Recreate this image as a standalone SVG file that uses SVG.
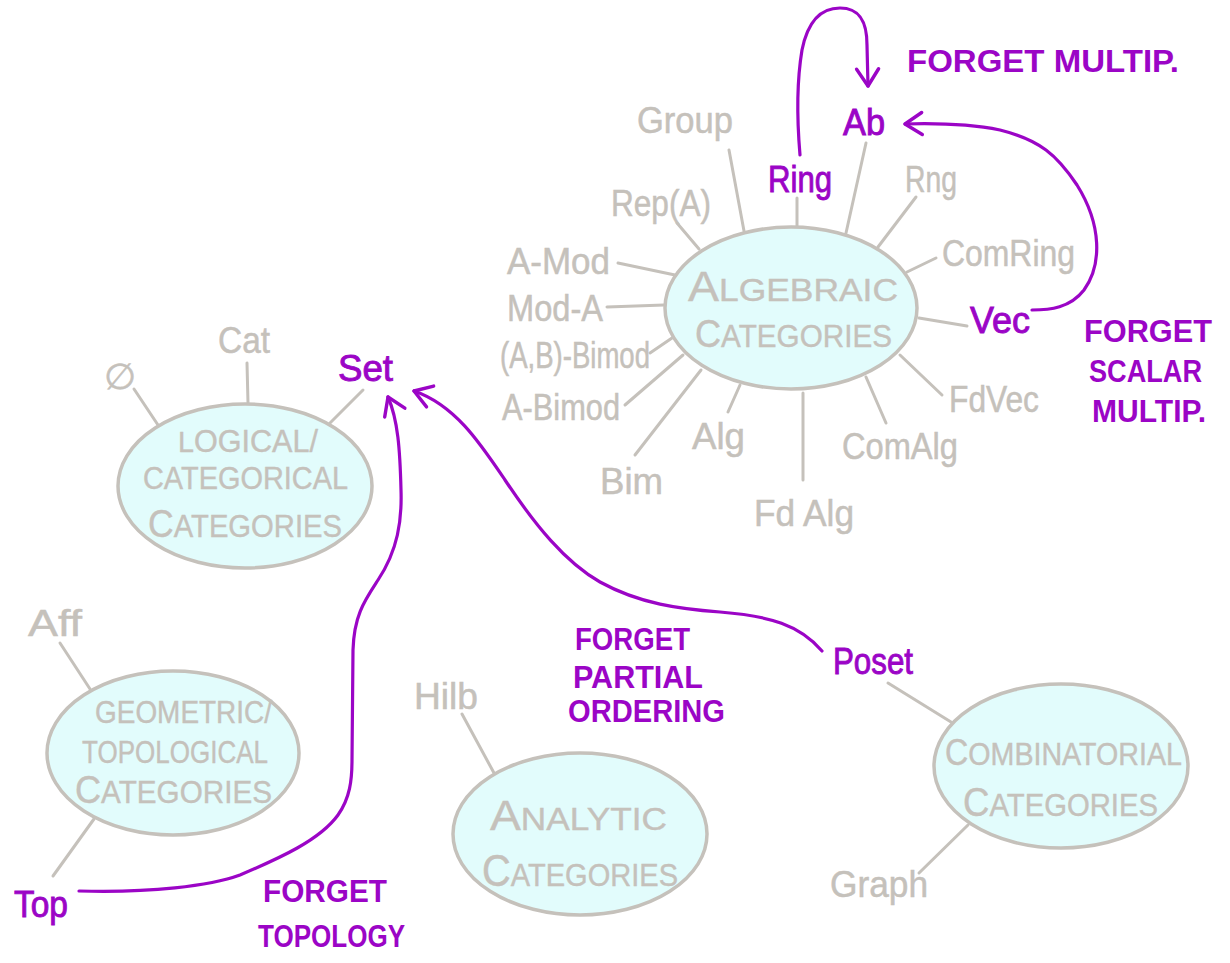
<svg xmlns="http://www.w3.org/2000/svg" width="1230" height="963" viewBox="0 0 1230 963">
  <style>
    text { font-family: "Liberation Sans", "DejaVu Sans", sans-serif; }
    .g { fill: #c5c1bb; stroke: #c5c1bb; stroke-width: 0.5px; font-size: 36px; }
    .p { fill: #9b05c6; stroke: #9b05c6; stroke-width: 0.9px; font-size: 36px; }
    .a { fill: #9b05c6; font-size: 32px; font-weight: bold; }
    .cap { fill: #c5c1bb; stroke: #c5c1bb; stroke-width: 0.4px; font-size: 32px; }
    .bubble { fill: #e2fcfc; stroke: #c5c1bb; stroke-width: 3.5; }
    .spoke { stroke: #c5c1bb; stroke-width: 3; stroke-linecap: round; fill: none; }
    .arrow { stroke: #9b05c6; stroke-width: 3.2; stroke-linecap: round; fill: none; marker-end: url(#head); }
  </style>
  <defs>
    <marker id="head" viewBox="0 0 22 26" refX="20" refY="13" markerWidth="22" markerHeight="26" markerUnits="userSpaceOnUse" orient="auto" overflow="visible">
      <path d="M3,2 L20,13 L3,24" fill="none" stroke="#9b05c6" stroke-width="3.4" stroke-linecap="round" stroke-linejoin="round"/>
    </marker>
  </defs>
  <rect width="1230" height="963" fill="#ffffff"/>

  <!-- connectors: gray spokes and purple forgetful functors -->
  <g id="connectors">
    <g id="spokes">
      <!-- algebraic -->
      <line class="spoke" x1="729" y1="150" x2="744" y2="231"/>
      <line class="spoke" x1="677" y1="223" x2="699" y2="249"/>
      <line class="spoke" x1="797" y1="198" x2="797" y2="226"/>
      <line class="spoke" x1="866" y1="143" x2="846" y2="233"/>
      <line class="spoke" x1="916" y1="197" x2="878" y2="247"/>
      <line class="spoke" x1="936" y1="258" x2="907" y2="272"/>
      <line class="spoke" x1="919" y1="318" x2="967" y2="326"/>
      <line class="spoke" x1="900" y1="355" x2="942" y2="395"/>
      <line class="spoke" x1="866" y1="377" x2="886" y2="423"/>
      <line class="spoke" x1="803" y1="393" x2="803" y2="480"/>
      <line class="spoke" x1="740" y1="385" x2="728" y2="412"/>
      <line class="spoke" x1="701" y1="370" x2="635" y2="455"/>
      <line class="spoke" x1="683" y1="355" x2="625" y2="405"/>
      <line class="spoke" x1="672" y1="338" x2="650" y2="353"/>
      <line class="spoke" x1="607" y1="307" x2="664" y2="305"/>
      <line class="spoke" x1="618" y1="263" x2="675" y2="275"/>
      <!-- logical -->
      <line class="spoke" x1="134" y1="389" x2="158" y2="425"/>
      <line class="spoke" x1="247" y1="363" x2="248" y2="403"/>
      <line class="spoke" x1="363" y1="390" x2="330" y2="423"/>
      <!-- geometric -->
      <line class="spoke" x1="60" y1="643" x2="90" y2="689"/>
      <line class="spoke" x1="94" y1="819" x2="53" y2="876"/>
      <!-- analytic -->
      <line class="spoke" x1="462" y1="714" x2="494" y2="773"/>
      <!-- combinatorial -->
      <line class="spoke" x1="888" y1="683" x2="951" y2="722"/>
      <line class="spoke" x1="919" y1="873" x2="968" y2="825"/>
    </g>
    <g id="functors">
      <!-- Ring to Ab: loop over the top -->
      <path id="ring-ab" class="arrow" d="M800,155 C797,120 797,80 802,50 C808,20 822,8 840,8 C860,8 867,22 867,45 L868,86"/>
      <!-- Vec to Ab -->
      <path id="vec-ab" class="arrow" d="M1032,310 C1050,310 1070,308 1084,290 C1102,265 1102,225 1077,185 C1057,155 1040,140 1000,130 C970,124 940,123 905,124"/>
      <!-- Top to Set -->
      <path id="top-set" class="arrow" d="M79,891 C150,893 210,886 240,875 C280,858 320,840 338,815 C350,798 352,780 352,760 L353,650 C354,615 365,600 378,580 C398,550 402,520 401,490 C400,450 398,420 388,397"/>
      <!-- Poset to Set -->
      <path id="poset-set" class="arrow" d="M822,651 C800,625 770,616 720,612 C680,609 640,604 600,582 C565,562 535,525 505,480 C480,443 455,405 414,391"/>
    </g>
  </g>

  <!-- algebraic categories -->
  <g id="algebraic">
    <ellipse class="bubble" cx="791" cy="308" rx="126" ry="81"/>
    <text class="cap" x="688" y="301" textLength="210" lengthAdjust="spacingAndGlyphs" font-size="33"><tspan font-size="42">A</tspan>LGEBRAIC</text>
    <text class="cap" x="695" y="347" textLength="197" lengthAdjust="spacingAndGlyphs" font-size="31"><tspan font-size="39">C</tspan>ATEGORIES</text>
  </g>
  <g id="group"><text class="g" x="637" y="133" textLength="96" lengthAdjust="spacingAndGlyphs">Group</text></g>
  <g id="rep-a"><text class="g" x="611" y="216" textLength="100" lengthAdjust="spacingAndGlyphs">Rep(A)</text></g>
  <g id="a-mod"><text class="g" x="507" y="274" textLength="103" lengthAdjust="spacingAndGlyphs">A-Mod</text></g>
  <g id="mod-a"><text class="g" x="507" y="321" textLength="96" lengthAdjust="spacingAndGlyphs">Mod-A</text></g>
  <g id="ab-bimod"><text class="g" x="500" y="368" textLength="150" lengthAdjust="spacingAndGlyphs" font-size="30">(A,B)-Bimod</text></g>
  <g id="a-bimod"><text class="g" x="502" y="420" textLength="118" lengthAdjust="spacingAndGlyphs">A-Bimod</text></g>
  <g id="bim"><text class="g" x="600" y="494" textLength="63" lengthAdjust="spacingAndGlyphs" font-size="38">Bim</text></g>
  <g id="alg"><text class="g" x="692" y="449" textLength="53" lengthAdjust="spacingAndGlyphs" font-size="38">Alg</text></g>
  <g id="fd-alg"><text class="g" x="754" y="526" textLength="100" lengthAdjust="spacingAndGlyphs">Fd Alg</text></g>
  <g id="comalg"><text class="g" x="842" y="459" textLength="116" lengthAdjust="spacingAndGlyphs" font-size="38">ComAlg</text></g>
  <g id="fdvec"><text class="g" x="949" y="412" textLength="90" lengthAdjust="spacingAndGlyphs">FdVec</text></g>
  <g id="comring"><text class="g" x="942" y="266" textLength="133" lengthAdjust="spacingAndGlyphs">ComRing</text></g>
  <g id="rng"><text class="g" x="905" y="192" textLength="52" lengthAdjust="spacingAndGlyphs" font-size="38">Rng</text></g>
  <g id="vec"><text class="p" x="970" y="333" textLength="60" lengthAdjust="spacingAndGlyphs" font-size="38">Vec</text></g>
  <g id="ring"><text class="p" x="768" y="192" textLength="64" lengthAdjust="spacingAndGlyphs">Ring</text></g>
  <g id="ab"><text class="p" x="843" y="135" textLength="42" lengthAdjust="spacingAndGlyphs">Ab</text></g>

  <!-- logical / categorical categories -->
  <g id="logical">
    <ellipse class="bubble" cx="245" cy="486" rx="127" ry="82"/>
    <text class="cap" x="178" y="452" textLength="140" lengthAdjust="spacingAndGlyphs" font-size="26"><tspan font-size="30">L</tspan>OGICAL/</text>
    <text class="cap" x="143" y="489" textLength="205" lengthAdjust="spacingAndGlyphs" font-size="27">CATEGORICAL</text>
    <text class="cap" x="148" y="537" textLength="194" lengthAdjust="spacingAndGlyphs" font-size="32"><tspan font-size="39">C</tspan>ATEGORIES</text>
  </g>
  <g id="empty"><text class="g" x="104" y="389" textLength="32" lengthAdjust="spacingAndGlyphs" font-size="42">∅</text></g>
  <g id="cat"><text class="g" x="218" y="353" textLength="52" lengthAdjust="spacingAndGlyphs">Cat</text></g>
  <g id="set"><text class="p" x="338" y="381" textLength="55" lengthAdjust="spacingAndGlyphs">Set</text></g>

  <!-- geometric / topological categories -->
  <g id="geometric">
    <ellipse class="bubble" cx="173" cy="753" rx="126" ry="82"/>
    <text class="cap" x="95" y="723" textLength="177" lengthAdjust="spacingAndGlyphs" font-size="27">GEOMETRIC/</text>
    <text class="cap" x="82" y="763" textLength="186" lengthAdjust="spacingAndGlyphs" font-size="28">TOPOLOGICAL</text>
    <text class="cap" x="75" y="803" textLength="197" lengthAdjust="spacingAndGlyphs" font-size="32"><tspan font-size="39">C</tspan>ATEGORIES</text>
  </g>
  <g id="aff"><text class="g" x="28" y="636" textLength="54" lengthAdjust="spacingAndGlyphs">Aff</text></g>
  <g id="top"><text class="p" x="14" y="917" textLength="54" lengthAdjust="spacingAndGlyphs">Top</text></g>

  <!-- analytic categories -->
  <g id="analytic">
    <ellipse class="bubble" cx="580" cy="834" rx="127" ry="81"/>
    <text class="cap" x="490" y="830" textLength="177" lengthAdjust="spacingAndGlyphs" font-size="34"><tspan font-size="42">A</tspan>NALYTIC</text>
    <text class="cap" x="482" y="886" textLength="196" lengthAdjust="spacingAndGlyphs" font-size="35"><tspan font-size="44">C</tspan>ATEGORIES</text>
  </g>
  <g id="hilb"><text class="g" x="414" y="709" textLength="64" lengthAdjust="spacingAndGlyphs">Hilb</text></g>

  <!-- combinatorial categories -->
  <g id="combinatorial">
    <ellipse class="bubble" cx="1061" cy="766" rx="127" ry="82"/>
    <text class="cap" x="945" y="765" textLength="237" lengthAdjust="spacingAndGlyphs" font-size="29"><tspan font-size="36">C</tspan>OMBINATORIAL</text>
    <text class="cap" x="963" y="816" textLength="195" lengthAdjust="spacingAndGlyphs" font-size="34"><tspan font-size="40">C</tspan>ATEGORIES</text>
  </g>
  <g id="poset"><text class="p" x="833" y="674" textLength="80" lengthAdjust="spacingAndGlyphs">Poset</text></g>
  <g id="graph"><text class="g" x="830" y="897" textLength="98" lengthAdjust="spacingAndGlyphs">Graph</text></g>

  <!-- functor annotations -->
  <g id="note-multip">
    <text class="a" x="907" y="72" textLength="272" lengthAdjust="spacingAndGlyphs" font-size="36">FORGET MULTIP.</text>
  </g>
  <g id="note-scalar">
    <text class="a" x="1084" y="342" textLength="128" lengthAdjust="spacingAndGlyphs">FORGET</text>
    <text class="a" x="1089" y="382" textLength="113" lengthAdjust="spacingAndGlyphs">SCALAR</text>
    <text class="a" x="1092" y="422" textLength="114" lengthAdjust="spacingAndGlyphs">MULTIP.</text>
  </g>
  <g id="note-topology">
    <text class="a" x="263" y="902" textLength="124" lengthAdjust="spacingAndGlyphs">FORGET</text>
    <text class="a" x="258" y="947" textLength="147" lengthAdjust="spacingAndGlyphs">TOPOLOGY</text>
  </g>
  <g id="note-order">
    <text class="a" x="575" y="650" textLength="115" lengthAdjust="spacingAndGlyphs" font-size="29">FORGET</text>
    <text class="a" x="573" y="688" textLength="130" lengthAdjust="spacingAndGlyphs" font-size="29">PARTIAL</text>
    <text class="a" x="568" y="722" textLength="157" lengthAdjust="spacingAndGlyphs" font-size="29">ORDERING</text>
  </g>
</svg>
